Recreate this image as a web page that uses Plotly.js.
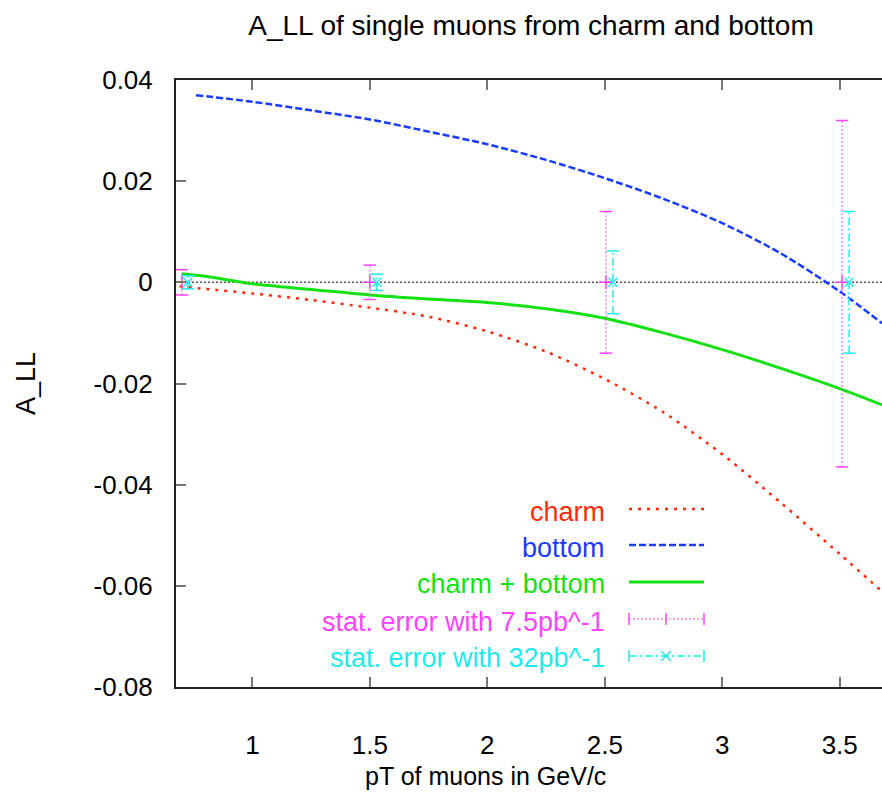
<!DOCTYPE html>
<html>
<head>
<meta charset="utf-8">
<script src="https://cdn.plot.ly/plotly-3.0.1.min.js"></script>
<style>html,body{margin:0;padding:0;background:#fff;}#chart{width:882px;height:794px;}</style>
</head>
<body>
<div id="chart"></div>
<script>
// ---- data ----
const charmX  = [0.69, 0.8, 1.0, 1.25, 1.5, 1.75, 2.0, 2.25, 2.5, 2.75, 3.0, 3.25, 3.5, 3.68];
const charmY  = [-0.0008, -0.0013, -0.0022, -0.0035, -0.0050, -0.0068, -0.0097, -0.0137, -0.0191, -0.0257, -0.0340, -0.0436, -0.0537, -0.0611];
const bottomX = [0.76, 1.0, 1.25, 1.5, 1.75, 2.0, 2.25, 2.5, 2.75, 3.0, 3.25, 3.5, 3.68];
const bottomY = [0.0370, 0.0357, 0.0340, 0.0322, 0.0298, 0.0273, 0.0242, 0.0206, 0.0165, 0.0117, 0.0057, -0.0018, -0.0081];
const sumX    = [0.70, 0.8, 1.0, 1.25, 1.5, 1.75, 2.0, 2.25, 2.5, 2.75, 3.0, 3.25, 3.5, 3.68];
const sumY    = [0.0017, 0.0012, -0.0003, -0.0014, -0.0025, -0.0033, -0.0040, -0.0052, -0.0071, -0.0100, -0.0133, -0.0170, -0.0210, -0.0242];

const err75X      = [0.70, 1.50, 2.505, 3.51];
const err75Y      = [0, 0, 0, 0];
const err75Plus   = [0.0025, 0.0034, 0.014, 0.032];
const err75Minus  = [0.0025, 0.0034, 0.014, 0.0365];
const err32X      = [0.725, 1.53, 2.535, 3.54];
const err32Y      = [0, 0, 0, 0];
const err32Plus   = [0.0013, 0.0016, 0.0062, 0.014];
const err32Minus  = [0.0013, 0.0016, 0.0062, 0.014];

const xTickVals = [1, 1.5, 2, 2.5, 3, 3.5];
const yTickVals = [-0.08, -0.06, -0.04, -0.02, 0, 0.02, 0.04];
const yTickText = ['-0.08', '-0.06', '-0.04', '-0.02', '0', '0.02', '0.04'];

const legendNames = ['charm', 'bottom', 'charm + bottom', 'stat. error with 7.5pb^-1', 'stat. error with 32pb^-1'];

// ---- styles ----
const RED = '#ff2a0a', BLUE = '#1a3cff', GREEN = '#16e016', MAG = '#ff44ff', CYAN = '#22eaea';
const FONT = 'Liberation Sans, Arial, Helvetica, sans-serif';
const W = 882, H = 794, L = 176, T = 80, R = 0, B = 107;
const PW = W - L - R, PH = H - T - B;
const px = v => (v - L) / PW;          // pixel -> paper x
const py = v => (H - B - v) / PH;      // pixel -> paper y

function errTraces(xs, ys, ep, em, color, dash, width, centerSymbol, centerSize) {
  const vx = [], vy = [], cx = [], cy = [];
  xs.forEach((x, i) => {
    vx.push(x, x, null); vy.push(ys[i] - em[i], ys[i] + ep[i], null);
    cx.push(x, x); cy.push(ys[i] - em[i], ys[i] + ep[i]);
  });
  return [
    {x: vx, y: vy, mode: 'lines', line: {color: color, dash: dash, width: width}, hoverinfo: 'skip', showlegend: false},
    {x: cx, y: cy, mode: 'markers', marker: {symbol: 'line-ew', size: 9, color: color, line: {color: color, width: 1.5}}, hoverinfo: 'skip', showlegend: false},
    {x: xs, y: ys, mode: 'markers', marker: {symbol: centerSymbol, size: centerSize, color: color, line: {color: color, width: 1.5}}, hoverinfo: 'skip', showlegend: false}
  ];
}

const data = [
  {x: charmX, y: charmY, mode: 'lines', name: legendNames[0], line: {color: RED, dash: '3px,6px', width: 2.5, shape: 'spline', smoothing: 0.8}, showlegend: false},
  {x: bottomX, y: bottomY, mode: 'lines', name: legendNames[1], line: {color: BLUE, dash: '7px,3px', width: 2.5, shape: 'spline', smoothing: 0.8}, showlegend: false},
  {x: sumX, y: sumY, mode: 'lines', name: legendNames[2], line: {color: GREEN, width: 3, shape: 'spline', smoothing: 0.8}, showlegend: false}
].concat(
  errTraces(err75X, err75Y, err75Plus, err75Minus, MAG, '2px,2px', 1, 'cross-thin', 10),
  errTraces(err32X, err32Y, err32Plus, err32Minus, CYAN, '8px,3px,2px,3px', 1.5, 'x-thin', 9)
);

// ---- custom legend (text to the left of the samples, as in the reference) ----
const legRowY = [509, 545, 582, 619, 656];
const legTextY = [512, 548, 584, 622, 658];
const legColors = [RED, BLUE, GREEN, MAG, CYAN];
const sx0 = 629, sx1 = 704, smid = 666;
const shapes = [
  // dotted zero axis
  {type: 'line', xref: 'paper', yref: 'y', x0: 0, x1: 1, y0: 0, y1: 0, layer: 'below', line: {color: '#555', width: 1.5, dash: '2px,2px'}},
  {type: 'line', xref: 'paper', yref: 'paper', x0: px(sx0), x1: px(sx1), y0: py(legRowY[0]), y1: py(legRowY[0]), line: {color: RED, width: 2.5, dash: '3px,6px'}},
  {type: 'line', xref: 'paper', yref: 'paper', x0: px(sx0), x1: px(sx1), y0: py(legRowY[1]), y1: py(legRowY[1]), line: {color: BLUE, width: 2.5, dash: '7px,3px'}},
  {type: 'line', xref: 'paper', yref: 'paper', x0: px(sx0), x1: px(sx1), y0: py(legRowY[2]), y1: py(legRowY[2]), line: {color: GREEN, width: 3}},
  {type: 'line', xref: 'paper', yref: 'paper', x0: px(sx0), x1: px(sx1), y0: py(legRowY[3]), y1: py(legRowY[3]), line: {color: MAG, width: 1, dash: '2px,2px'}},
  {type: 'line', xref: 'paper', yref: 'paper', x0: px(sx0), x1: px(sx1), y0: py(legRowY[4]), y1: py(legRowY[4]), line: {color: CYAN, width: 1.5, dash: '8px,3px,2px,3px'}}
];
[3, 4].forEach(r => {
  const c = legColors[r], y = legRowY[r];
  [sx0, sx1].forEach(x => shapes.push({type: 'line', xref: 'paper', yref: 'paper', x0: px(x), x1: px(x), y0: py(y - 6), y1: py(y + 6), line: {color: c, width: 1.5}}));
});
shapes.push({type: 'line', xref: 'paper', yref: 'paper', x0: px(smid), x1: px(smid), y0: py(legRowY[3] - 6), y1: py(legRowY[3] + 6), line: {color: MAG, width: 1.5}});
shapes.push({type: 'line', xref: 'paper', yref: 'paper', x0: px(smid - 5), x1: px(smid + 5), y0: py(legRowY[4] - 5), y1: py(legRowY[4] + 5), line: {color: CYAN, width: 1.5}});
shapes.push({type: 'line', xref: 'paper', yref: 'paper', x0: px(smid - 5), x1: px(smid + 5), y0: py(legRowY[4] + 5), y1: py(legRowY[4] - 5), line: {color: CYAN, width: 1.5}});

const annotations = legendNames.map((n, i) => ({
  text: n, xref: 'paper', yref: 'paper', x: px(607), y: py(legTextY[i]), xanchor: 'right', yanchor: 'middle',
  showarrow: false, font: {family: FONT, size: 27, color: legColors[i]}
}));
annotations.push({text: 'pT of muons in GeV/c', xref: 'paper', yref: 'paper', x: px(485), y: py(776), xanchor: 'center', yanchor: 'middle', showarrow: false, font: {family: FONT, size: 25, color: '#000'}});
annotations.push({text: 'A_LL', xref: 'paper', yref: 'paper', x: px(26), y: py(384), xanchor: 'center', yanchor: 'middle', textangle: -90, showarrow: false, font: {family: FONT, size: 27, color: '#000'}});

const layout = {
  width: W, height: H,
  margin: {l: L, r: R, t: T, b: B, pad: 0},
  paper_bgcolor: '#fff', plot_bgcolor: '#fff',
  showlegend: false,
  title: {text: 'A_LL of single muons from charm and bottom', x: 531 / W, xanchor: 'center', xref: 'container', y: 1 - 25 / H, yanchor: 'middle', yref: 'container', font: {family: FONT, size: 28, color: '#000'}},
  xaxis: {range: [0.675, 3.68], tickvals: xTickVals, ticks: 'inside', ticklen: 10, tickwidth: 2, tickcolor: '#777',
          showline: true, linecolor: '#222', linewidth: 2, mirror: 'ticks', showgrid: false, zeroline: false,
          ticklabelstandoff: 34, tickfont: {family: FONT, size: 26, color: '#000'}},
  yaxis: {range: [-0.08, 0.04], tickvals: yTickVals, ticktext: yTickText, ticks: 'inside', ticklen: 10, tickwidth: 2, tickcolor: '#777',
          showline: true, linecolor: '#222', linewidth: 2, mirror: false, showgrid: false, zeroline: false,
          ticklabelstandoff: 16, tickfont: {family: FONT, size: 26, color: '#000'}},
  shapes: shapes,
  annotations: annotations
};

Plotly.newPlot('chart', data, layout, {staticPlot: true, displayModeBar: false});
</script>
</body>
</html>
